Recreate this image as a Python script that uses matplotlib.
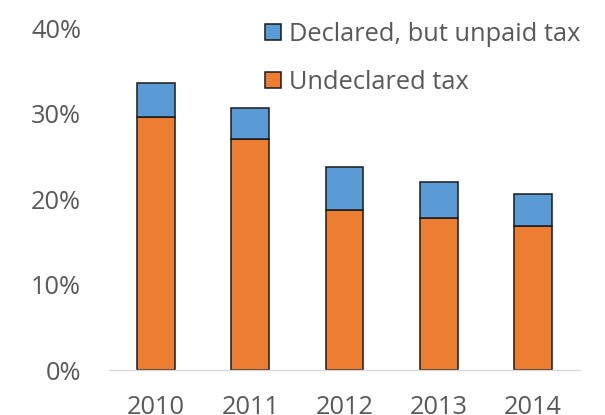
import matplotlib.pyplot as plt
import numpy as np

years = ['2010', '2011', '2012', '2013', '2014']
undeclared = [29.6, 27.0, 18.7, 17.8, 16.9]
declared_unpaid = [4.0, 3.7, 5.0, 4.2, 3.7]
ytick_vals = [0, 10, 20, 30, 40]

plt.rcParams['font.family'] = ['Open Sans', 'DejaVu Sans']
grey = '#595959'
fs = 18.3

fig = plt.figure(figsize=(6.05, 4.15), dpi=100)
ax = fig.add_axes([0.180, 0.1084, 0.779, 0.8241])

x = np.arange(len(years))
b1 = ax.bar(x, undeclared, width=0.40, color='#ED7D31', edgecolor='#1a1a1a',
            linewidth=1.1, label='Undeclared tax', zorder=3)
b2 = ax.bar(x, declared_unpaid, width=0.40, bottom=undeclared, color='#5B9BD5',
            edgecolor='#1a1a1a', linewidth=1.1, label='Declared, but unpaid tax', zorder=3)

ax.set_xlim(-0.5, len(years) - 0.5)
ax.set_ylim(0, 40)
ax.set_yticks(ytick_vals)
ax.set_yticklabels([f'{v}%' for v in ytick_vals])
ax.set_xticks(x)
ax.set_xticklabels(years)
ax.tick_params(axis='y', length=0, pad=20, labelsize=fs, labelcolor=grey)
ax.tick_params(axis='x', length=0, pad=18, labelsize=fs, labelcolor=grey)

for s in ['top', 'right', 'left']:
    ax.spines[s].set_visible(False)
ax.spines['bottom'].set_color('#d9d9d9')
ax.spines['bottom'].set_linewidth(1.0)
ax.spines['bottom'].set_zorder(4)

leg = ax.legend([b2, b1], ['Declared, but unpaid tax', 'Undeclared tax'],
                loc='upper left', bbox_to_anchor=(265 / 605, 1 - 22 / 415),
                bbox_transform=fig.transFigure, frameon=False, fontsize=fs,
                handlelength=0.63, handleheight=0.63, handletextpad=0.33,
                labelspacing=0.9, borderpad=0, borderaxespad=0)
for t in leg.get_texts():
    t.set_color(grey)

fig.savefig('out.png', dpi=100)
